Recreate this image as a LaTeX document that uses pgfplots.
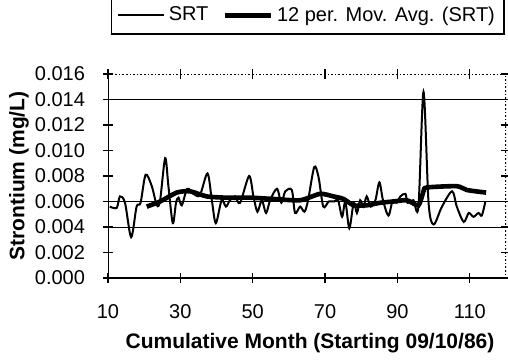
\documentclass[border=0pt]{standalone}
\usepackage{fontspec}
\setmainfont{Liberation Sans}
\usepackage{pgfplots}
\pgfplotsset{compat=1.18}
\begin{document}
\begin{tikzpicture}
\path[use as bounding box] (0,0) rectangle (254pt,180pt);
\begin{axis}[
  at={(54pt,41pt)}, anchor=south west,
  scale only axis, width=199pt, height=102pt,
  xmin=10, xmax=120, ymin=0, ymax=0.016,
  xtick={10,30,50,70,90,110},
  ytick={0,0.002,0.004,0.006,0.008,0.010,0.012,0.014,0.016},
  scaled y ticks=false,
  /pgf/number format/assume math mode=true,
  ticklabel style={font=\fontsize{10}{12}\selectfont},
  yticklabel style={xshift=-5.5pt, /pgf/number format/fixed, /pgf/number format/fixed zerofill, /pgf/number format/precision=3},
  xticklabel style={yshift=-7pt},
  tick align=center, major tick length=5pt,
  tick style={black, line width=0.6pt},
  axis line style={draw=none},
  extra y ticks={0.004,0.006,0.014},
  extra y tick labels={},
  extra y tick style={grid=major, major grid style={black, line width=0.5pt}},
  xlabel={\textbf{Cumulative Month (Starting 09/10/86)}},
  ylabel={\textbf{Strontium (mg/L)}},
  every axis x label/.style={at={([xshift=1.5pt,yshift=-32.75pt]axis description cs:0.5,0)}, anchor=center, font=\fontsize{10.5}{12}\selectfont},
  every axis y label/.style={at={([xshift=-44.5pt]axis description cs:0,0.5)}, anchor=center, rotate=90, font=\fontsize{10.5}{12}\selectfont},
  legend columns=2,
  legend style={at={(1,1)}, anchor=north east, xshift=-0.75pt, yshift=39pt,
    draw=black, line width=0.6pt, font=\fontsize{10}{12}\selectfont,
    inner xsep=2.5pt, inner ysep=3pt,
    /tikz/every even column/.append style={column sep=5pt}},
  legend image code/.code={\draw[#1] (0pt,0pt) -- (23pt,0pt);},
]
\draw[black, line width=0.8pt] (rel axis cs:0,1) -- (rel axis cs:0,0) -- (rel axis cs:1,0);
\draw[black, line width=0.8pt, densely dotted] (rel axis cs:0,1) -- (rel axis cs:1,1) -- (rel axis cs:1,0);
\addplot[black, line width=1pt, smooth, tension=0.5] coordinates {
(10.5,0.0056) (12.4,0.0055) (13.3,0.0064) (14.7,0.0059) (16.4,0.0032) (17.9,0.0056)
(19.0,0.0059) (20.4,0.0081) (22.1,0.0072) (23.5,0.0057) (24.4,0.0061) (25.8,0.0094)
(26.7,0.0072) (27.9,0.0043) (28.8,0.0059) (29.5,0.0063) (30.4,0.0057) (31.9,0.0070)
(33.6,0.0066) (35.4,0.0065) (37.5,0.0082) (38.7,0.0061) (39.8,0.0043) (41.4,0.0061)
(42.6,0.0056) (43.7,0.0061) (45.1,0.0064) (46.5,0.0059) (49.0,0.0080) (50.2,0.0064)
(51.3,0.0052) (52.5,0.0061) (53.7,0.0051) (54.8,0.0061) (56.7,0.0070) (57.9,0.0059)
(59.0,0.0068) (60.8,0.0069) (61.7,0.0051) (63.1,0.0056) (64.3,0.0052) (65.3,0.0061)
(67.0,0.0087) (68.2,0.0079) (69.5,0.0056) (71.0,0.0060) (72.5,0.0060) (73.6,0.0061)
(74.7,0.0048) (75.6,0.0060) (76.7,0.0039) (77.9,0.0059) (78.8,0.0051) (79.7,0.0061)
(80.6,0.0056) (81.5,0.0064) (82.6,0.0056) (83.9,0.0061) (85.0,0.0075) (86.0,0.0061)
(87.5,0.0049) (88.7,0.0061) (89.8,0.0059) (90.8,0.0064) (92.2,0.0066) (92.8,0.0059)
(94.4,0.0061) (95.8,0.0056) (97.2,0.0146) (98.6,0.0059) (100.0,0.0042) (102.3,0.0056)
(105.1,0.0068) (106.4,0.0056) (108.3,0.0044) (109.7,0.0051) (111.0,0.0048) (112.4,0.0051)
(113.3,0.0049) (114.3,0.0060)
};
\addlegendentry{SRT}
\addplot[black, line width=2.3pt, smooth, tension=0.4] coordinates {
(20.7,0.0056) (24.4,0.0060) (29.0,0.0067) (32.7,0.0068) (37.3,0.0064) (42.8,0.0063)
(49.3,0.0063) (55.7,0.0062) (63.1,0.0061) (68.6,0.0066) (72.3,0.0064) (75.1,0.0062)
(77.9,0.0057) (81.5,0.0057) (85.2,0.0059) (88.9,0.0060) (92.6,0.0061) (95.8,0.0057)
(97.2,0.0068) (98.1,0.0071) (106.4,0.0072) (109.2,0.0069) (114.5,0.0067)
};
\addlegendentry{12 per. Mov. Avg. (SRT)}
\end{axis}
\end{tikzpicture}
\end{document}
